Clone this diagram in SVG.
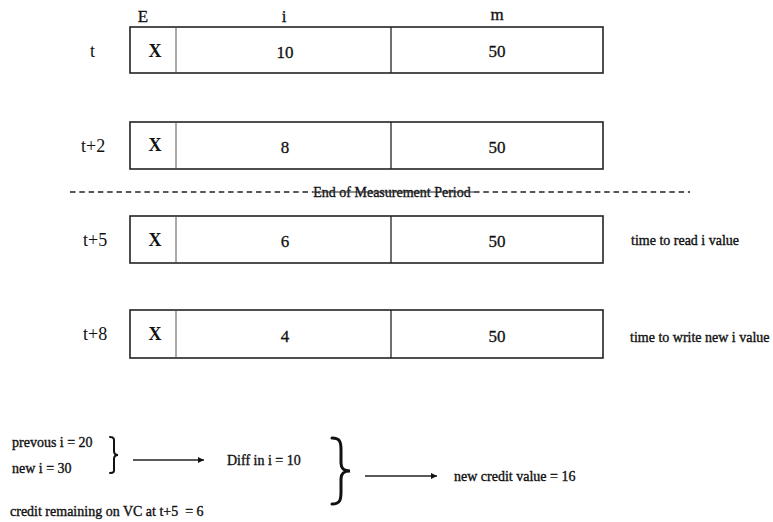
<svg xmlns="http://www.w3.org/2000/svg" width="773" height="522" viewBox="0 0 773 522">
  <style>
    text { font-family: "Liberation Serif", "Times New Roman", serif; fill: #111; }
    .hdr { font-size: 17px; text-anchor: middle; stroke: #111; stroke-width: 0.3; }
    .lbl { font-size: 18px; }
    .cell { font-size: 17px; text-anchor: middle; stroke: #111; stroke-width: 0.3; }
    .x { font-size: 18px; font-weight: bold; text-anchor: middle; }
    .note { font-size: 14px; stroke: #111; stroke-width: 0.35; white-space: pre; }
    .box { fill: #fff; stroke: #222; stroke-width: 1.6; }
    .div-e { stroke: #555; stroke-width: 1; }
    .div-m { stroke: #222; stroke-width: 1.3; }
    .dash { stroke: #222; stroke-width: 1.3; stroke-dasharray: 5.5 3.8; fill: none; }
    .conn { stroke: #222; stroke-width: 1.3; fill: none; }
    .brace { stroke: #111; fill: none; stroke-linecap: round; }
  </style>
  <defs>
    <marker id="arrow" viewBox="0 0 10 10" refX="10" refY="5" markerWidth="9" markerHeight="6" markerUnits="userSpaceOnUse" orient="auto">
      <path d="M0,0 L10,5 L0,10 z" fill="#111"/>
    </marker>
  </defs>
  <rect width="773" height="522" fill="#fff"/>

  <!-- column headers -->
  <text class="hdr" x="143" y="22">E</text>
  <text class="hdr" x="284" y="22">i</text>
  <text class="hdr" x="497" y="20">m</text>

  <!-- register snapshot at t -->
  <g id="row-t">
    <text class="lbl" x="90" y="57">t</text>
    <rect class="box" x="130" y="27" width="473" height="46"/>
    <line class="div-e" x1="176" y1="27" x2="176" y2="73"/>
    <line class="div-m" x1="391" y1="27" x2="391" y2="73"/>
    <text class="x" x="155" y="57">X</text>
    <text class="cell" x="285" y="58">10</text>
    <text class="cell" x="497" y="57">50</text>
  </g>

  <!-- register snapshot at t+2 -->
  <g id="row-t2">
    <text class="lbl" x="81" y="152">t+2</text>
    <rect class="box" x="130" y="122" width="473" height="47"/>
    <line class="div-e" x1="176" y1="122" x2="176" y2="169"/>
    <line class="div-m" x1="391" y1="122" x2="391" y2="169"/>
    <text class="x" x="155" y="151">X</text>
    <text class="cell" x="285" y="153">8</text>
    <text class="cell" x="497" y="153">50</text>
  </g>

  <!-- end of measurement period marker -->
  <g id="period-end">
    <line class="dash" x1="70" y1="192" x2="313" y2="192"/>
    <line class="dash" x1="474" y1="192" x2="690" y2="192"/>
    <text x="392" y="197" font-size="14" text-anchor="middle" stroke="#111" stroke-width="0.3">End of Measurement Period</text>
    <line x1="313" y1="192" x2="474" y2="192" stroke="#222" stroke-width="1"/>
  </g>

  <!-- register snapshot at t+5 -->
  <g id="row-t5">
    <text class="lbl" x="83" y="246">t+5</text>
    <rect class="box" x="130" y="216" width="473" height="47"/>
    <line class="div-e" x1="176" y1="216" x2="176" y2="263"/>
    <line class="div-m" x1="391" y1="216" x2="391" y2="263"/>
    <text class="x" x="155" y="246">X</text>
    <text class="cell" x="285" y="247">6</text>
    <text class="cell" x="497" y="247">50</text>
    <text class="note" x="631" y="245">time to read i value</text>
  </g>

  <!-- register snapshot at t+8 -->
  <g id="row-t8">
    <text class="lbl" x="83" y="340">t+8</text>
    <rect class="box" x="130" y="310" width="473" height="48"/>
    <line class="div-e" x1="176" y1="310" x2="176" y2="358"/>
    <line class="div-m" x1="391" y1="310" x2="391" y2="358"/>
    <text class="x" x="155" y="340">X</text>
    <text class="cell" x="285" y="342">4</text>
    <text class="cell" x="497" y="342">50</text>
    <text class="note" x="630" y="342">time to write new i value</text>
  </g>

  <!-- credit calculation -->
  <g id="inputs">
    <text class="note" x="12" y="447" font-size="13">prevous i = 20</text>
    <text class="note" x="12" y="473" font-size="13">new i = 30</text>
    <path class="brace" stroke-width="2" d="M110,437 C115,437 114,440 114,445 L114,451 C114,454 116,455 118,455 C116,455 114,456 114,459 L114,467 C114,471 115,473 110,473"/>
  </g>
  <g id="diff">
    <text class="note" x="227" y="465">Diff in i = 10</text>
    <path class="brace" stroke-width="3" d="M332,438 C340,438 341,442 341,450 L341,463 C341,469 344,471 350,471 C344,471 341,473 341,479 L341,492 C341,500 340,504 332,504"/>
  </g>
  <g id="result">
    <text class="note" x="454" y="481">new credit value = 16</text>
  </g>
  <g id="remaining">
    <text class="note" x="10" y="516" xml:space="preserve">credit remaining on VC at t+5  = 6</text>
  </g>

  <!-- connectors -->
  <g id="connectors">
    <line class="conn" x1="133" y1="460" x2="204" y2="460" marker-end="url(#arrow)"/>
    <line class="conn" x1="365" y1="476" x2="437" y2="476" marker-end="url(#arrow)"/>
  </g>
</svg>
